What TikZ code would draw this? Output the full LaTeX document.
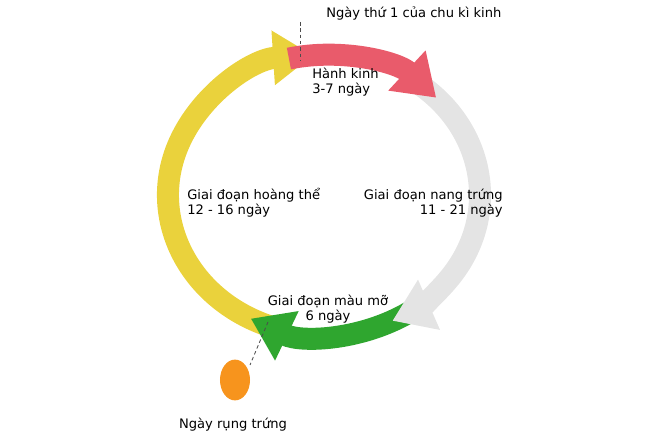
\documentclass[tikz,border=0pt]{standalone}
\usepackage{fontspec}
\setmainfont{DejaVu Sans}
\usetikzlibrary{arrows.meta,positioning,shapes.geometric,calc}
\definecolor{ylw}{HTML}{EAD23C}
\definecolor{rd}{HTML}{E95B6B}
\definecolor{gry}{HTML}{E4E4E4}
\definecolor{grn}{HTML}{2FA62F}
\definecolor{org}{HTML}{F7941D}
\begin{document}
\begin{tikzpicture}[
    x=0.025cm, y=0.025cm,
    phase/.style={
        line width=0.55cm,
        -{Triangle[width=1.3cm,length=1cm]}
    },
    lbl/.style={
        font=\fontsize{9.3}{10.5}\selectfont,
        inner sep=0pt
    },
    guide/.style={
        draw=black!70,
        dash pattern=on 2.5pt off 2pt,
        semithick
    }
]
\useasboundingbox (0,0) rectangle (660,440);

% Cycle
\coordinate (c) at (324,245);
\draw [phase, ylw] ($(c)+(-110:156 and 140)$) arc[start angle=-110, end angle=-266, x radius=156, y radius=140];
\draw [phase, grn] ($(c)+(-55:156 and 140)$) arc[start angle=-55, end angle=-118, x radius=156, y radius=140];
\draw [phase, gry] ($(c)+(55:156 and 140)$) arc[start angle=55, end angle=-64, x radius=156, y radius=140];
\draw [phase, rd] ($(c)+(103:156 and 140)$) arc[start angle=103, end angle=44, x radius=156, y radius=140];

% Labels
\node [lbl, anchor=west] (day1) at (326,426) {Ngày thứ 1 của chu kì kinh};
\node [lbl, anchor=north west, align=left] (menses) at (312,372) {Hành kinh\\3-7 ngày};
\node [lbl, anchor=west, align=left] (luteal) at (187,237) {Giai đoạn hoàng thể\\12 - 16 ngày};
\node [lbl, anchor=east, align=right] (follic) at (503,237) {Giai đoạn nang trứng\\11 - 21 ngày};
\node [lbl, align=center] (fertile) at (328,131) {Giai đoạn màu mỡ\\6 ngày};
\node [ellipse, fill=org, minimum width=0.75cm, minimum height=1.02cm, inner sep=0pt] (egg) at (235,60) {};
\node [lbl] (ovul) at (233,15) {Ngày rụng trứng};

% Guides
\coordinate (top) at (300,380);
\coordinate (bot) at (268,118);
\draw [guide] (300,418) -- (top);
\draw [guide] (bot) -- (250,75);
\end{tikzpicture}
\end{document}
